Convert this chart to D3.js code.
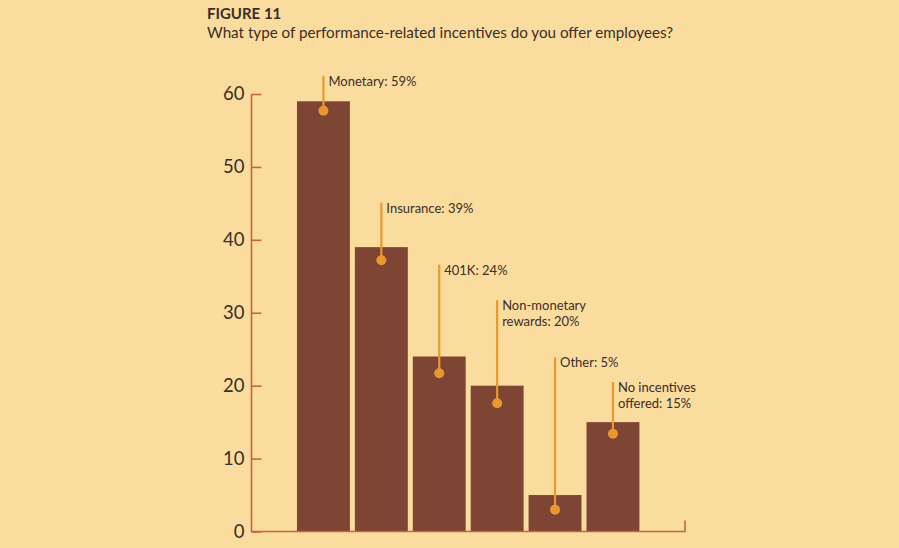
<!DOCTYPE html>
<html>
<head>
<meta charset="utf-8">
<script src="https://cdn.jsdelivr.net/npm/d3@7"></script>
<style>
  html, body { margin: 0; padding: 0; background: #fbdc9f; }
  svg { display: block; font-family: Lato, "Open Sans", sans-serif; }
</style>
</head>
<body>
<svg id="chart" width="899" height="548"></svg>
<script>
// Data
const categories = ["Monetary", "Insurance", "401K", "Non-monetary rewards", "Other", "No incentives offered"];
const values = [59, 39, 24, 20, 5, 15];
// label lines (callout text), split as in the figure
const labelLines = [
  ["Monetary: 59%"],
  ["Insurance: 39%"],
  ["401K: 24%"],
  ["Non-monetary", "rewards: 20%"],
  ["Other: 5%"],
  ["No incentives", "offered: 15%"]
];
// where each callout line starts and where its dot sits, in axis units
const calloutTop = [62.5, 45.1, 36.6, 31.7, 23.9, 20.5];
const calloutDot = [57.7, 37.2, 21.7, 17.6, 3.0, 13.4];
const yTicks = [0, 10, 20, 30, 40, 50, 60];

const barColor = "#7e4535";
const axisColor = "#c4663b";
const calloutColor = "#e9982f";
const textColor = "#3a2e26";

const svg = d3.select("#chart");

// Titles
svg.append("text")
  .attr("x", 207)
  .attr("y", 19)
  .style("font-size", "15px")
  .style("font-weight", "bold")
  .style("fill", textColor)
  .text("FIGURE 11");

svg.append("text")
  .attr("x", 207)
  .attr("y", 37.5)
  .style("font-size", "15.2px")
  .style("fill", textColor)
  .text("What type of performance-related incentives do you offer employees?");

// Scales
const axisX = 251.5;
const axisEnd = 685;

const x = d3.scaleBand()
  .domain(categories)
  .range([294.5, 641.9])
  .paddingInner(0.086)
  .paddingOuter(0.043);

const y = d3.scaleLinear()
  .domain([0, 60])
  .range([531.5, 94]);

// Bars
svg.selectAll("rect.bar")
  .data(categories)
  .enter()
  .append("rect")
  .attr("class", "bar")
  .attr("x", d => x(d))
  .attr("y", (d, i) => y(values[i]))
  .attr("width", x.bandwidth())
  .attr("height", (d, i) => y(0) - y(values[i]))
  .style("fill", barColor);

// Y axis (ticks pointing inward)
const yAxis = d3.axisLeft(y)
  .tickValues(yTicks)
  .tickSize(-10)
  .tickPadding(7);

const gy = svg.append("g")
  .attr("transform", `translate(${axisX},0)`)
  .call(yAxis);

gy.select(".domain").remove();
gy.selectAll(".tick line")
  .attr("stroke", axisColor)
  .attr("stroke-width", 1.6);
gy.selectAll(".tick text")
  .style("font-family", "Lato, 'Open Sans', sans-serif")
  .style("font-size", "18.5px")
  .style("fill", textColor);

// axis lines
svg.append("path")
  .attr("d", `M${axisX},${y(60)}V${y(0)}H${axisEnd}V${y(0) - 11}`)
  .attr("fill", "none")
  .attr("stroke", axisColor)
  .attr("stroke-width", 1.6);

// Callouts
const callouts = svg.selectAll("g.callout")
  .data(categories)
  .enter()
  .append("g")
  .attr("class", "callout")
  .attr("transform", d => `translate(${x(d) + x.bandwidth() / 2},0)`);

callouts.append("line")
  .attr("x1", 0)
  .attr("x2", 0)
  .attr("y1", (d, i) => y(calloutTop[i]))
  .attr("y2", (d, i) => y(calloutDot[i]))
  .attr("stroke", calloutColor)
  .attr("stroke-width", 2.2);

callouts.append("circle")
  .attr("cx", 0)
  .attr("cy", (d, i) => y(calloutDot[i]))
  .attr("r", 5)
  .style("fill", calloutColor);

callouts.append("text")
  .attr("y", (d, i) => y(calloutTop[i]) + 10)
  .style("font-size", "13px")
  .style("fill", textColor)
  .selectAll("tspan")
  .data((d, i) => labelLines[i])
  .enter()
  .append("tspan")
  .attr("x", 5)
  .attr("dy", (d, j) => j === 0 ? 0 : 15.5)
  .text(d => d);
</script>
</body>
</html>
